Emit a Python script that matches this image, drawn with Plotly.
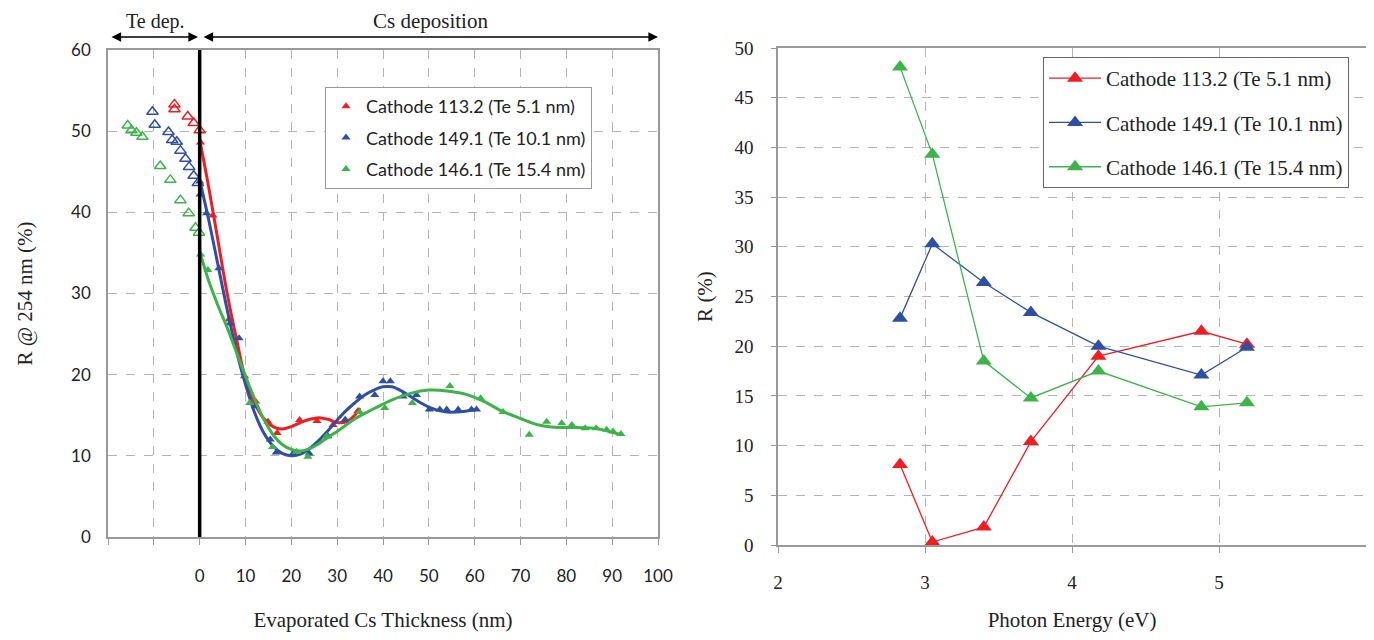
import plotly.graph_objects as go

# ---------------- Left panel data ----------------
# Te deposition (open triangles, negative thickness)
red_te_x = [-5.5, -5.5, -2.6, -1.3, 0.0]
red_te_y = [53.3, 52.7, 51.8, 51.0, 50.1]
blue_te_x = [-10.3, -9.8, -6.8, -6.0, -5.0, -4.2, -3.1, -2.3, -1.3, -0.4]
blue_te_y = [52.4, 50.8, 49.9, 48.9, 48.7, 47.6, 46.6, 45.6, 44.5, 43.6]
green_te_x = [-15.7, -14.9, -13.8, -12.5, -8.6, -6.4, -4.2, -2.4, -0.9, -0.15]
green_te_y = [50.7, 50.1, 49.8, 49.3, 45.7, 44.0, 41.5, 39.9, 38.1, 37.5]

# Cs deposition (filled triangles)
red_cs_x = [0.2, 2.9, 6.4, 9.8, 12.2, 14.9, 16.9, 21.8, 25.6, 29.1, 31.8, 34.5]
red_cs_y = [48.6, 39.6, 26.8, 19.8, 16.7, 14.2, 12.8, 14.4, 14.3, 13.8, 14.4, 15.5]
blue_cs_x = [0.0, 0.1, 1.5, 4.2, 6.6, 8.6, 12.2, 15.4, 16.7, 20.4, 23.9, 28.0, 31.7,
             34.9, 38.2, 40.0, 41.6, 44.4, 47.3, 50.1, 52.4, 53.9, 56.4, 59.3, 60.4]
blue_cs_y = [43.8, 42.2, 39.9, 33.1, 26.3, 24.5, 16.1, 12.0, 10.4, 10.3, 10.3, 12.4, 14.4,
             17.3, 17.5, 19.2, 19.2, 17.3, 17.5, 15.7, 15.7, 15.7, 15.7, 15.7, 15.7]
green_cs_x = [0.2, 1.8, 10.9, 15.9, 21.1, 23.6, 27.7, 34.9, 40.4, 46.4, 54.6, 61.3,
              66.2, 71.9, 75.7, 79.0, 81.2, 84.1, 86.5, 88.8, 90.2, 91.9]
green_cs_y = [34.8, 32.9, 16.5, 11.1, 10.5, 9.9, 12.4, 15.4, 15.9, 16.5, 18.6, 17.1,
              15.4, 12.6, 14.2, 14.0, 13.8, 13.4, 13.4, 13.2, 13.0, 12.7]

# Fitted curves
red_fit_x = [0, 2, 4, 6, 8, 10, 12, 14, 16, 18, 20, 22, 24, 26, 28, 30, 32, 34, 35]
red_fit_y = [49.0, 43.0, 36.5, 30.0, 24.5, 19.5, 16.5, 14.6, 13.6, 13.3, 13.6, 14.1, 14.5,
             14.7, 14.5, 14.1, 14.2, 15.1, 15.9]
blue_fit_x = [0, 2, 4, 6, 8, 10, 12, 14, 16, 18, 20, 22, 24, 26, 28, 30, 32, 34, 36, 38,
              40, 42, 44, 46, 48, 50, 52, 54, 56, 58, 60]
blue_fit_y = [44.0, 39.0, 33.5, 28.0, 23.0, 18.8, 15.3, 12.8, 11.2, 10.3, 10.0, 10.2, 10.9,
              11.9, 13.1, 14.4, 15.6, 16.6, 17.5, 18.1, 18.5, 18.5, 18.0, 17.3, 16.6, 16.0,
              15.6, 15.4, 15.4, 15.5, 15.7]
green_fit_x = [0, 2, 4, 6, 8, 10, 12, 14, 16, 18, 20, 22, 24, 26, 28, 30, 34, 38, 42, 46,
               50, 54, 58, 62, 66, 70, 74, 78, 82, 86, 88, 90, 92]
green_fit_y = [35.2, 31.5, 28.5, 25.8, 22.8, 19.8, 17.0, 14.5, 12.6, 11.4, 10.8, 10.6, 10.9,
               11.5, 12.3, 13.0, 14.6, 15.8, 16.9, 17.7, 18.1, 18.0, 17.6, 16.7, 15.5, 14.6,
               13.8, 13.5, 13.5, 13.4, 13.2, 12.9, 12.6]

# ---------------- Right panel data ----------------
energy = [2.83, 3.05, 3.40, 3.72, 4.18, 4.88, 5.19]
r_red = [8.1, 0.3, 1.8, 10.4, 19.0, 21.5, 20.2]
r_blue = [22.8, 30.3, 26.4, 23.4, 20.0, 17.1, 19.9]
r_green = [48.1, 39.3, 18.5, 14.8, 17.5, 13.9, 14.3]

names = ["Cathode 113.2 (Te 5.1 nm)", "Cathode 149.1 (Te 10.1 nm)", "Cathode 146.1 (Te 15.4 nm)"]
RED, BLUE, GREEN = "#f01e23", "#2f4fa2", "#3cb44a"

left_x_ticks = [-20, -10, 0, 10, 20, 30, 40, 50, 60, 70, 80, 90, 100]
left_x_labels = ["", "", "0", "10", "20", "30", "40", "50", "60", "70", "80", "90", "100"]

# page body has an 8px margin -> figure is 16px smaller and offset by 8px
OFF = 8
W, H = 1374 - 2 * OFF, 640 - 2 * OFF


def px(x):
    return (x - OFF) / W


def py(y):
    return 1 - (y - OFF) / H


fig = go.Figure()

series = [
    (red_te_x, red_te_y, red_cs_x, red_cs_y, red_fit_x, red_fit_y, RED),
    (blue_te_x, blue_te_y, blue_cs_x, blue_cs_y, blue_fit_x, blue_fit_y, BLUE),
    (green_te_x, green_te_y, green_cs_x, green_cs_y, green_fit_x, green_fit_y, GREEN),
]
for i, (tx, ty, cx, cy, fx, fy, col) in enumerate(series):
    fig.add_trace(go.Scatter(x=tx, y=ty, mode="markers", xaxis="x", yaxis="y",
                             marker=dict(symbol="triangle-up-open", size=10, color=col,
                                         line=dict(width=1.5, color=col)),
                             showlegend=False))
    fig.add_trace(go.Scatter(x=fx, y=fy, mode="lines", xaxis="x", yaxis="y",
                             line=dict(color=col, width=3, shape="spline"),
                             showlegend=False))
    fig.add_trace(go.Scatter(x=cx, y=cy, mode="markers", xaxis="x", yaxis="y",
                             marker=dict(symbol="triangle-up", size=8, color=col),
                             name=names[i], legend="legend", legendgroup="L%d" % i))

for i, (vals, col) in enumerate([(r_red, RED), (r_blue, BLUE), (r_green, GREEN)]):
    fig.add_trace(go.Scatter(x=energy, y=vals, mode="lines+markers", xaxis="x2", yaxis="y2",
                             line=dict(color=col, width=1.3),
                             marker=dict(symbol="triangle-up", size=14, color=col),
                             name=names[i], legend="legend2", legendgroup="R%d" % i))

grid = dict(showgrid=True, gridcolor="#b4b4b4", griddash="dash", gridwidth=1)
sans = "Lato, 'Liberation Sans', sans-serif"
serif = "'Liberation Serif', 'Times New Roman', serif"

fig.update_layout(
    width=W, height=H, margin=dict(l=0, r=0, t=0, b=0),
    plot_bgcolor="white", paper_bgcolor="white",
    xaxis=dict(domain=[px(108), px(658)], range=[-20, 100], tickvals=left_x_ticks,
               ticktext=left_x_labels, ticks="outside", ticklen=6, tickcolor="#999",
               showline=True, linecolor="#999", linewidth=1.5, mirror=True,
               zeroline=False, ticklabelstandoff=17, automargin=False,
               tickfont=dict(family=sans, size=17, color="#222"),
               title=dict(text="Evaporated Cs Thickness (nm)", standoff=31,
                          font=dict(family=serif, size=21, color="#222")), anchor="y", **grid),
    yaxis=dict(domain=[py(537), py(50)], range=[0, 60], dtick=10,
               ticks="", showline=True, linecolor="#999", linewidth=1.5, mirror=True,
               zeroline=False, ticklabelstandoff=12, automargin=False,
               tickfont=dict(family=sans, size=17, color="#222"),
               title=dict(text="R @ 254 nm (%)", standoff=33,
                          font=dict(family=serif, size=21, color="#222")), anchor="x", **grid),
    xaxis2=dict(domain=[px(778), px(1366)], range=[2, 6], dtick=1,
                ticks="outside", ticklen=6, tickcolor="#999",
                showline=True, linecolor="#999", linewidth=1.5, mirror=True,
                zeroline=False, ticklabelstandoff=13, automargin=False,
                tickfont=dict(family=serif, size=19, color="#222"),
                title=dict(text="Photon Energy (eV)", standoff=28,
                           font=dict(family=serif, size=21, color="#222")), anchor="y2", **grid),
    yaxis2=dict(domain=[py(545), py(48)], range=[0, 50], dtick=5,
                ticks="outside", ticklen=5, tickcolor="#999",
                showline=True, linecolor="#999", linewidth=1.5, mirror=True,
                zeroline=False, ticklabelstandoff=14, automargin=False,
                tickfont=dict(family=serif, size=19, color="#222"),
                title=dict(text="R (%)", standoff=16,
                           font=dict(family=serif, size=21, color="#222")), anchor="x2", **grid),
    legend=dict(x=px(325), y=py(87), xanchor="left", yanchor="top",
                bordercolor="#999", borderwidth=1, bgcolor="white",
                font=dict(family=sans, size=18, color="#222"), tracegroupgap=5),
    legend2=dict(x=px(1043), y=py(57), xanchor="left", yanchor="top",
                 bordercolor="#666", borderwidth=1, bgcolor="white", itemwidth=52,
                 font=dict(family=serif, size=21, color="#222"), tracegroupgap=14),
)

# black separator at zero thickness
fig.add_shape(type="line", xref="x", yref="y", x0=0, x1=0, y0=0, y1=60,
              line=dict(color="black", width=3.5))

# top arrows and labels
ya = py(37)
fig.add_annotation(xref="paper", yref="paper", x=px(198), y=ya, ax=-88, ay=0, axref="pixel",
                   ayref="pixel", text="", showarrow=True, arrowhead=2, arrowside="end+start",
                   arrowwidth=1.6, arrowsize=1.2, arrowcolor="black")
fig.add_annotation(xref="paper", yref="paper", x=px(658), y=ya, ax=-456, ay=0, axref="pixel",
                   ayref="pixel", text="", showarrow=True, arrowhead=2, arrowside="end+start",
                   arrowwidth=1.6, arrowsize=1.2, arrowcolor="black")
fig.add_annotation(xref="paper", yref="paper", x=px(155), y=py(21), xanchor="center",
                   yanchor="middle", text="Te dep.", showarrow=False, borderpad=0,
                   font=dict(family=serif, size=20, color="#222"))
fig.add_annotation(xref="paper", yref="paper", x=px(430), y=py(21), xanchor="center",
                   yanchor="middle", text="Cs deposition", showarrow=False, borderpad=0,
                   font=dict(family=serif, size=21, color="#222"))

fig.write_html("out.html")
